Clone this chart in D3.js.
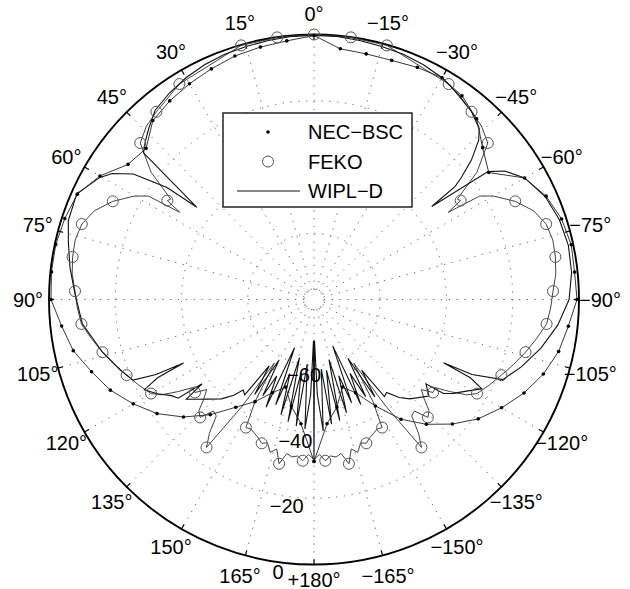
<!DOCTYPE html>
<html>
<head>
<meta charset="utf-8">
<script src="https://cdn.jsdelivr.net/npm/d3@7"></script>
<style>
  html, body { margin: 0; padding: 0; background: #fff; }
  text { font-family: "Liberation Sans", Arial, Helvetica, sans-serif; fill: #000; }
</style>
</head>
<body>
<svg id="chart" width="630" height="589"></svg>
<script>
// ---- angular axis (degrees, 0 at top, positive counter-clockwise) ----
const angleTicks = [0, 15, 30, 45, 60, 75, 90, 105, 120, 135, 150, 165, 180,
                    -165, -150, -135, -120, -105, -90, -75, -60, -45, -30, -15];
const angleLabels = ["0°", "15°", "30°", "45°", "60°", "75°", "90°", "105°", "120°", "135°", "150°", "165°", "+180°",
                     "−165°", "−150°", "−135°", "−120°", "−105°", "−90°", "−75°", "−60°", "−45°", "−30°", "−15°"];

// ---- radial axis (dB) ----
const radialTicks = [-60, -40, -20, 0];
const radialLabels = ["−60", "−40", "−20", "0"];
const innerRing = -77;

// ---- NEC-BSC: one sample every 6 degrees ----
const necAngles = d3.range(-180, 181, 6);
const necDb = [-31.1, -42.3, -46.8, -52.2, -49.2, -42.9, -35.3, -29.3, -23.8, -18.7,
               -14.6, -10.6, -7.2, -4.5, -2.8, -0.6, -0.9, -0.6, -1.4, -3.3,
               -6.6, -14.8, -11.5, -6.6, -4.0, -2.7, -3.3, -4.1, -4.2, -3.9,
               -0.3, -1.5, -2.1, -2.7, -3.8, -4.8, -5.9, -7.3, -11.8, -10.6,
               -5.4, -1.8, -0.9, -0.3, -0.3, -0.6, -3.4, -5.7, -9.4, -12.7,
               -17.0, -21.4, -27.0, -33.2, -39.8, -44.4, -49.2, -52.2, -47.1, -42.3,
               -31.1];

// ---- FEKO (markers on every multiple of 8 degrees) ----
const fekoAngles = [-180, -178, -176, -174, -172, -170, -168, -166, -164, -162, -160, -158, -156, -154, -152, -150,
                    -148, -146, -144, -142, -140, -138, -136, -134, -132, -130, -128, -126, -124, -122, -120,
                    -116, -112, -108, -104, -100, -96, -92, -88, -84, -80, -76, -72, -68, -64, -60, -58,
                    -57, -56, -55, -52, -48, -44, -40, -32, -16, -8,
                    0, 8, 16, 32, 40, 44, 48, 52, 55, 56, 57, 58, 60, 64, 68, 72, 76, 80, 84, 88,
                    92, 96, 100, 104, 108, 112, 116, 120, 122, 124, 126, 128, 130, 132, 134, 136, 138,
                    140, 142, 144, 146, 148, 150, 152, 154, 156, 158, 160, 162, 164, 166, 168, 170, 172,
                    174, 176, 178, 180];
const fekoDb = [-31.7, -33.2, -31.2, -32.5, -32.0, -32.8, -29.3, -33.5, -32.0, -34.5, -33.8, -35.0, -35.8, -36.5, -36.2, -44.4,
                -57.4, -40.8, -24.8, -28.7, -34.1, -34.7, -30.5, -31.7, -35.3, -37.7, -34.4, -34.7, -30.2, -25.7, -23.2,
                -21.1, -19.0, -16.6, -14.2, -11.8, -9.4, -8.5, -7.8, -6.6, -6.0, -5.7, -6.3, -8.5, -12.4, -17.5, -21.1,
                -31.7, -26.6, -27.2, -17.6, -9.4, -7.2, -6.0, -3.3, -0.2, -0.1,
                0.0, -0.1, -0.2, -3.3, -6.0, -7.2, -9.4, -17.6, -27.2, -26.6, -31.7, -21.1, -17.5, -12.4, -8.5, -6.3, -5.7, -6.0, -6.6, -7.8,
                -8.5, -9.4, -11.8, -14.2, -16.6, -19.0, -21.1, -23.2, -25.7, -30.2, -34.7, -34.4, -37.7, -35.3, -31.7, -30.5, -34.7,
                -34.1, -28.7, -24.8, -40.8, -57.4, -44.4, -36.2, -36.5, -35.8, -35.0, -33.8, -34.5, -32.0, -33.5, -29.3, -32.8, -32.0,
                -32.5, -31.2, -33.2, -31.7];

// ---- WIPL-D ----
const wiplAngles = [-180, -179.3, -178, -176, -174, -172, -170, -168, -166, -164, -162, -160, -158, -156, -154, -152,
                    -150, -148, -146, -144, -142, -139, -136, -130, -127, -126, -124, -121, -118, -116.6, -116, -115.4,
                    -113, -108, -102, -96, -90, -84, -78, -72, -66, -60, -56, -53.7, -51.7, -51.3, -50.5,
                    -48.5, -46, -44, -40, -35, -30, -25, -20, -15, -10, -5,
                    0, 5, 10, 15, 20, 25, 30, 35, 40, 44, 47, 49.3, 51.8, 52.7, 55.2, 58, 60.3, 66, 72.2, 77,
                    82.5, 88.6, 96, 104, 110, 114, 115.4, 116, 116.6, 118, 121, 124, 126, 127, 128, 131, 133,
                    137, 140, 142, 144, 146, 148, 150, 152, 154, 156, 158, 160, 162, 164, 166, 168, 170, 172,
                    174, 176, 178, 179.3, 180];
const wiplDb = [-31.1, -67.6, -51.3, -40.2, -58.9, -42.0, -58.3, -42.6, -61.3, -44.4, -55.8, -46.8, -64.9, -45.3, -55.2, -46.8,
                -59.5, -45.3, -54.3, -43.8, -44.4, -40.8, -38.3, -34.7, -37.7, -31.7, -29.3, -26.3, -22.6, -27.2, -36.5, -27.2,
                -18.1, -14.2, -9.9, -6.0, -3.0, -1.8, -1.5, -2.1, -3.6, -6.6, -10.6, -14.8, -34.7, -25.4, -22.6,
                -16.6, -10.9, -8.2, -6.0, -4.2, -2.7, -1.8, -1.2, -0.9, -0.6, -0.3,
                -0.3, -0.3, -0.6, -0.9, -1.2, -1.8, -2.7, -3.9, -5.4, -8.2, -10.3, -12.1, -35.0, -24.2, -13.6, -8.2, -5.6, -1.6, -2.1, -3.9,
                -5.7, -7.8, -9.7, -14.2, -17.8, -20.2, -27.2, -36.2, -27.2, -22.0, -24.8, -28.1, -29.3, -37.7, -31.1, -34.1, -35.9,
                -39.0, -42.3, -45.3, -44.4, -55.8, -46.2, -58.9, -47.1, -54.3, -44.4, -64.3, -46.2, -56.5, -43.8, -61.9, -42.3, -57.4, -41.4,
                -60.4, -40.8, -51.3, -67.6, -31.1];

// ---- layout ----
const cx = 314, cy = 299.5, R = 265, labelR = 286;
const svg = d3.select("#chart");
const g = svg.append("g").attr("transform", `translate(${cx},${cy})`);
const r = d3.scaleLinear().domain([-80, 0]).range([0, R]);
const rad = deg => deg * Math.PI / 180;
const pt = (deg, rr) => [-rr * Math.sin(rad(deg)), -rr * Math.cos(rad(deg))];

// grid: dotted rings and spokes
const gridStyle = sel => sel.attr("fill", "none").attr("stroke", "#6a6a6a")
  .attr("stroke-width", 1).attr("stroke-dasharray", "1.3,6.5");
g.selectAll("circle.ring").data([innerRing, ...radialTicks.slice(0, -1)]).join("circle")
  .attr("class", "ring").attr("r", d => r(d)).call(gridStyle);
g.selectAll("line.spoke").data(angleTicks).join("line")
  .attr("class", "spoke")
  .attr("x1", d => pt(d, r(innerRing))[0]).attr("y1", d => pt(d, r(innerRing))[1])
  .attr("x2", d => pt(d, R)[0]).attr("y2", d => pt(d, R)[1])
  .call(gridStyle);

// outer circle and ticks
g.append("circle").attr("r", r(0)).attr("fill", "none").attr("stroke", "#000").attr("stroke-width", 1.9);
g.selectAll("line.tick").data(angleTicks).join("line")
  .attr("class", "tick")
  .attr("x1", d => pt(d, R - 5)[0]).attr("y1", d => pt(d, R - 5)[1])
  .attr("x2", d => pt(d, R)[0]).attr("y2", d => pt(d, R)[1])
  .attr("stroke", "#000").attr("stroke-width", 1.2);

// angle labels
g.selectAll("text.alab").data(angleTicks).join("text")
  .attr("class", "alab")
  .attr("x", d => pt(d, labelR)[0])
  .attr("y", d => pt(d, labelR)[1] + (d === 180 ? -6 : 0))
  .attr("text-anchor", "middle").attr("dominant-baseline", "central")
  .attr("font-size", 20)
  .text((d, i) => angleLabels[i]);

// data curves
const line = d3.lineRadial().angle(d => -rad(d[0])).radius(d => r(d[1]));
const nec = necAngles.map((a, i) => [a, necDb[i]]);
const feko = fekoAngles.map((a, i) => [a, fekoDb[i]]);
const wipl = wiplAngles.map((a, i) => [a, wiplDb[i]]);

g.append("path").attr("d", line(feko)).attr("fill", "none").attr("stroke", "#444").attr("stroke-width", 1);
g.append("path").attr("d", line(wipl)).attr("fill", "none").attr("stroke", "#111").attr("stroke-width", 1.1);
g.append("path").attr("d", line(nec)).attr("fill", "none").attr("stroke", "#222").attr("stroke-width", 0.9);

g.selectAll("circle.feko").data(feko.filter(d => d[0] % 8 === 0)).join("circle")
  .attr("class", "feko")
  .attr("cx", d => pt(d[0], r(d[1]))[0]).attr("cy", d => pt(d[0], r(d[1]))[1])
  .attr("r", 5.5).attr("fill", "none").attr("stroke", "#555").attr("stroke-width", 1);
g.selectAll("circle.nec").data(nec).join("circle")
  .attr("class", "nec")
  .attr("cx", d => pt(d[0], r(d[1]))[0]).attr("cy", d => pt(d[0], r(d[1]))[1])
  .attr("r", 1.8).attr("fill", "#000");

// radial labels
g.selectAll("text.rlab").data(radialTicks).join("text")
  .attr("class", "rlab")
  .attr("x", d => pt(172.5, r(d) + 10)[0]).attr("y", d => pt(172.5, r(d) + 10)[1])
  .attr("text-anchor", "middle").attr("dominant-baseline", "central")
  .attr("font-size", 20)
  .text((d, i) => radialLabels[i]);

// legend
const lg = svg.append("g").attr("transform", "translate(223,113)");
lg.append("rect").attr("width", 189).attr("height", 94).attr("fill", "#fff")
  .attr("stroke", "#000").attr("stroke-width", 1.3);
const series = ["NEC−BSC", "FEKO", "WIPL−D"];
const rows = lg.selectAll("g.row").data(series).join("g")
  .attr("class", "row").attr("transform", (d, i) => `translate(0,${19 + i * 29.5})`);
rows.append("text").attr("x", 85).attr("y", 0).attr("dominant-baseline", "central")
  .attr("font-size", 20).text(d => d);
lg.append("circle").attr("cx", 45).attr("cy", 19).attr("r", 1.8).attr("fill", "#000");
lg.append("circle").attr("cx", 45).attr("cy", 48.5).attr("r", 5.5).attr("fill", "none").attr("stroke", "#555");
lg.append("line").attr("x1", 14).attr("x2", 77).attr("y1", 78).attr("y2", 78).attr("stroke", "#111").attr("stroke-width", 1.1);
</script>
</body>
</html>
